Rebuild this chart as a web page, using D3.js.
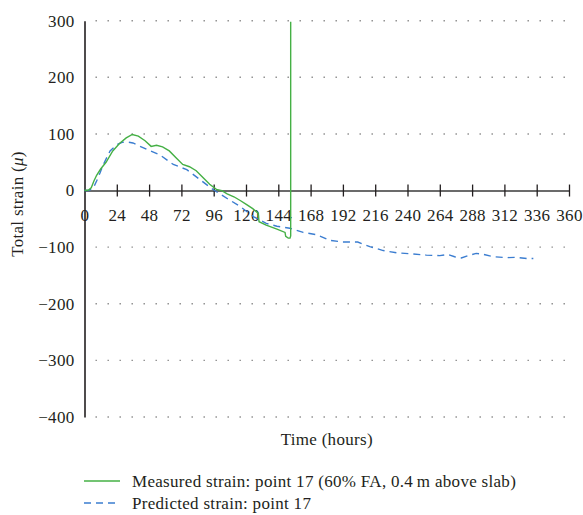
<!DOCTYPE html>
<html lang="en">
<head>
<meta charset="UTF-8">
<title>Total strain</title>
<style>
  body { margin: 0; padding: 0; background: #fff; overflow: hidden; }
  svg { display: block; }
  text { font-family: "Liberation Serif", "DejaVu Serif", serif; fill: #231f20; letter-spacing: 0.3px; }
</style>
</head>
<body>
<svg id="chart" width="583" height="515"></svg>
<script src="https://cdn.jsdelivr.net/npm/d3@7"></script>
<script>
// hours vs strain
var measured = [
  [0, 0], [3, 1], [5, 5], [7, 17], [9, 27], [12, 38], [16, 50], [21, 70], [26, 83],
  [31, 93], [35.5, 99], [40, 96], [45, 88], [49.5, 78], [53.5, 80], [58, 77], [63, 70],
  [68, 58], [73, 46], [78, 42], [83, 35], [88, 23], [93, 11], [98, 2], [102, 0],
  [106, -6], [111, -11], [116, -18], [120.5, -25], [125, -32], [129, -40], [129.7, -55],
  [135, -61], [143, -68], [149, -74], [149.5, -81], [151.4, -84], [152.7, -84],
  [153.2, -80], [153.2, 298]
];
var predicted = [
  [0, 0], [3, 0], [6.5, 4], [9, 17], [11.5, 31], [14, 46], [19, 70], [24, 81], [28, 85],
  [31, 86], [36, 84], [46, 73], [56, 63], [66, 46], [76, 37], [86, 19], [96, 1],
  [106, -14], [115.5, -28], [125.5, -46], [135, -58], [143, -63], [152.5, -66.5],
  [162.5, -74], [172.5, -78], [182.5, -88], [192, -91], [203, -91], [212, -99],
  [222, -106], [232, -110], [244, -112], [254, -114], [264, -115], [270, -113],
  [275, -117], [280, -119], [285, -115], [291, -111], [296, -112.5], [304, -117],
  [313.5, -118.5], [321, -118], [328.5, -120], [333.5, -120]
];
var xTicks = [0, 24, 48, 72, 96, 120, 144, 168, 192, 216, 240, 264, 288, 312, 336, 360];
var yTicks = [300, 200, 100, 0, -100, -200, -300, -400];
var legendLabels = ["Measured strain: point 17 (60% FA, 0.4\u2009m above slab)", "Predicted strain: point 17"];

var svg = d3.select("#chart");
var x = d3.scaleLinear().domain([0, 360]).range([84.5, 569]);
var y = d3.scaleLinear().domain([-400, 300]).range([417, 20.7]);

// dotted grid
svg.append("g").selectAll("line")
  .data(yTicks.filter(d => d != 0))
  .join("line")
  .attr("x1", x(0) + 11).attr("x2", x(360))
  .attr("y1", d => y(d)).attr("y2", d => y(d))
  .attr("stroke", "#8a8a8a").attr("stroke-width", 1.4)
  .attr("stroke-dasharray", "1.4,10.6");

// y axis
var yAxis = svg.append("g").attr("transform", "translate(" + x(0) + ",0)")
  .call(d3.axisLeft(y).tickValues(yTicks).tickSize(0).tickPadding(10).tickFormat(d => d < 0 ? "\u2212" + (-d) : d));
yAxis.select(".domain").attr("stroke", "#231f20").attr("stroke-width", 1.6);
yAxis.selectAll("text").style("font-size", "17px").attr("fill", "#231f20");

// x axis at zero, ticks crossing
var xAxis = svg.append("g").attr("transform", "translate(0," + y(0) + ")")
  .call(d3.axisBottom(x).tickValues(xTicks).tickSizeInner(6).tickSizeOuter(0).tickPadding(12));
xAxis.select(".domain").attr("stroke", "#3a3a3a").attr("stroke-width", 1.4);
xAxis.selectAll(".tick line").attr("y1", -6).attr("y2", 6).attr("stroke", "#231f20").attr("stroke-width", 1.3);
xAxis.selectAll(".tick").filter(d => d == 0).select("line").remove();
xAxis.selectAll("text").style("font-size", "17px").attr("fill", "#231f20");

var line = d3.line().x(d => x(d[0])).y(d => y(d[1]));

svg.append("path").datum(predicted).attr("d", line)
  .attr("fill", "none").attr("stroke", "#3b7dd0").attr("stroke-width", 1.4)
  .attr("stroke-dasharray", "7,5");
svg.append("path").datum(measured).attr("d", line)
  .attr("fill", "none").attr("stroke", "#45b045").attr("stroke-width", 1.4);

// axis titles
svg.append("text").attr("x", x(180)).attr("y", 445).attr("text-anchor", "middle")
  .style("font-size", "17px").text("Time (hours)");
svg.append("text").attr("transform", "translate(23,204) rotate(-90)").attr("text-anchor", "middle")
  .style("font-size", "17px")
  .call(t => {
    t.append("tspan").text("Total strain (");
    t.append("tspan").style("font-style", "italic").text("\u03bc");
    t.append("tspan").text(")");
  });

// legend
var leg = svg.append("g");
var legStyles = [{ c: "#45b045", dash: null, y: 481 }, { c: "#3b7dd0", dash: "7,5", y: 503 }];
legStyles.forEach((s, i) => {
  leg.append("line").attr("x1", 84).attr("x2", 120).attr("y1", s.y).attr("y2", s.y)
    .attr("stroke", s.c).attr("stroke-width", 1.4).attr("stroke-dasharray", s.dash);
  leg.append("text").attr("x", 132).attr("y", s.y + 5.5).style("font-size", "17px").text(legendLabels[i]);
});
</script>
</body>
</html>
